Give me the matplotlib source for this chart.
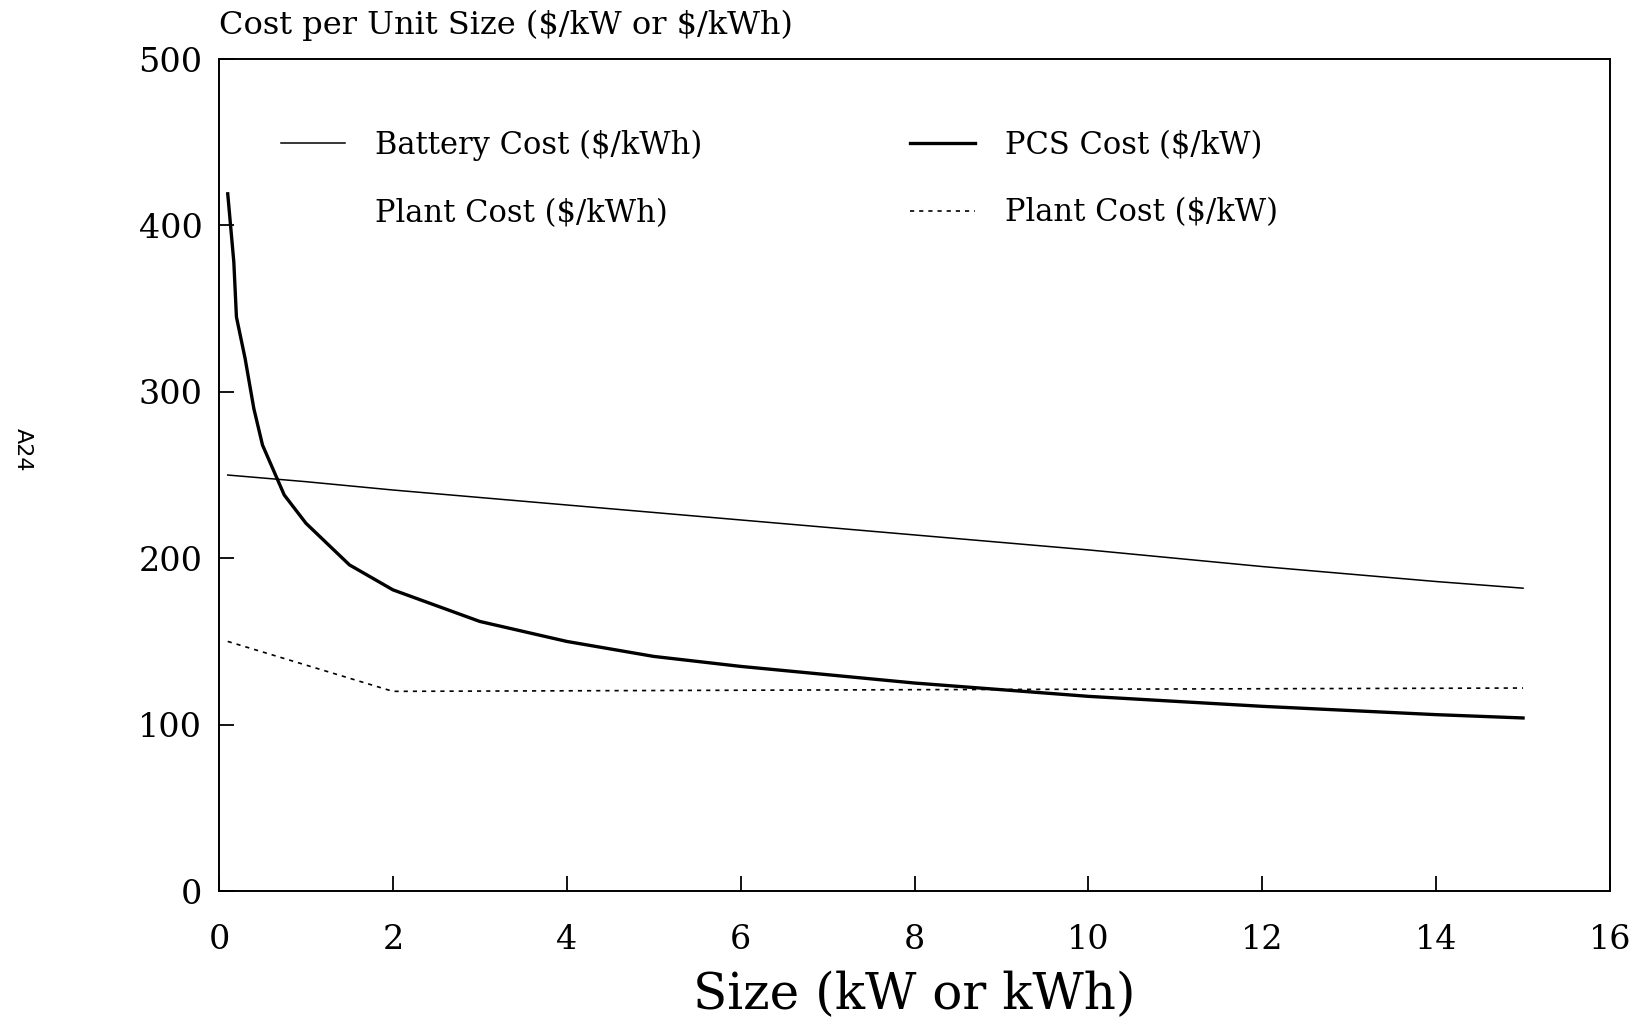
import matplotlib
matplotlib.use("Agg")
import matplotlib.pyplot as plt
from matplotlib.lines import Line2D

# --- data ----------------------------------------------------------------
battery_x = [0.1, 1, 2, 4, 6, 8, 10, 12, 14, 15]
battery_y = [250, 246, 241, 232, 223, 214, 205, 195, 186, 182]

pcs_x = [0.1, 0.17, 0.2, 0.3, 0.4, 0.5, 0.75, 1, 1.5, 2, 3, 4, 5, 6, 7, 8, 9, 10, 12, 14, 15]
pcs_y = [419, 378, 345, 320, 290, 268, 238, 221, 196, 181, 162, 150, 141, 135, 130, 125, 121, 117, 111, 106, 104]

plant_kw_x = [0.1, 2, 8, 15]
plant_kw_y = [150, 120, 121, 122]

x_ticks = [0, 2, 4, 6, 8, 10, 12, 14, 16]
y_ticks = [0, 100, 200, 300, 400, 500]

plt.rcParams["font.family"] = ["DejaVu Serif"]

fig = plt.figure(figsize=(16.42, 10.23), dpi=100)
ax = fig.add_axes([0.1334, 0.129, 0.8471, 0.8133])

ax.plot(battery_x, battery_y, color="black", lw=1.1)
ax.plot(pcs_x, pcs_y, color="black", lw=2.4)
ax.plot(plant_kw_x, plant_kw_y, color="black", lw=1.2, dashes=(2.5, 3))

ax.set_xlim(0, 16)
ax.set_ylim(0, 500)
ax.set_xticks(x_ticks)
ax.set_yticks(y_ticks)
ax.tick_params(direction="in", length=11, width=1.3, labelsize=24, pad=12,
               top=False, right=False)
ax.tick_params(axis="x", pad=24)
for s in ax.spines.values():
    s.set_linewidth(1.4)

ax.set_xlabel("Size (kW or kWh)", fontsize=36)
ax.xaxis.set_label_coords(0.5, -0.125)
ax.xaxis.label.set_va("center")

fig.text(0.1334, 0.9756, r"Cost per Unit Size (\$/kW or \$/kWh)", fontsize=23,
         ha="left", va="center")
fig.text(0.014, 0.56, "A24", fontsize=16, family="DejaVu Sans",
         rotation=270, ha="center", va="center")

# legend, two columns placed separately
leg_kw = dict(frameon=False, fontsize=22, handlelength=2.1, handletextpad=1.0,
              borderpad=0, borderaxespad=0, labelspacing=1.2, loc="upper left")
h1 = [Line2D([], [], color="black", lw=1.1),
      Line2D([], [], color="none")]
leg1 = ax.legend(h1, ["Battery Cost ($/kWh)", "Plant Cost ($/kWh)"],
                 bbox_to_anchor=(0.0443, 0.915), **leg_kw)
ax.add_artist(leg1)
h2 = [Line2D([], [], color="black", lw=2.4),
      Line2D([], [], color="black", lw=1.2, dashes=(2.5, 3))]
ax.legend(h2, ["PCS Cost ($/kW)", "Plant Cost ($/kW)"],
          bbox_to_anchor=(0.497, 0.915), **leg_kw)

fig.savefig("out.png", dpi=100)
